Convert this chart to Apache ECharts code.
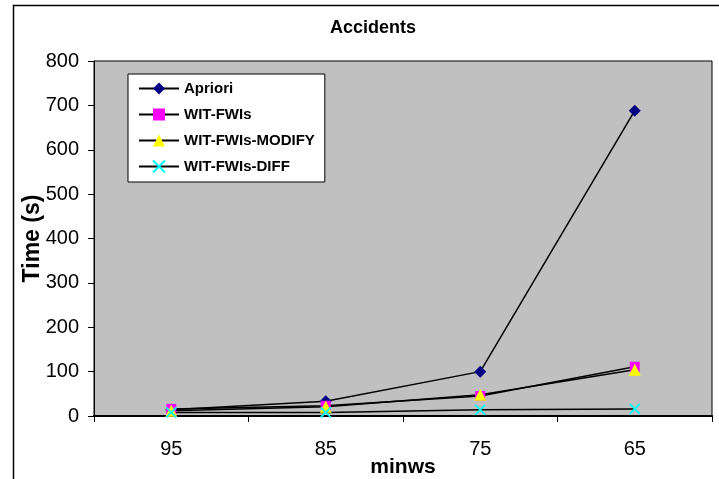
<!DOCTYPE html>
<html>
<head>
<meta charset="utf-8">
<script src="https://cdn.jsdelivr.net/npm/echarts@6/dist/echarts.min.js"></script>
<style>
  html, body { margin: 0; padding: 0; background: #fff; }
  #chart { width: 719px; height: 479px; }
</style>
</head>
<body>
<div id="chart"></div>
<script>
// minws thresholds on the x axis
const categories = ['95', '85', '75', '65']

// runtime in seconds
const apriori = [14, 33, 100, 688]
const witFwis = [16, 23, 45, 111]
const witFwisModify = [12, 21, 48, 104]
const witFwisDiff = [8, 8, 14, 16]

const sansFont = '"Liberation Sans", Arial, sans-serif'
const crossPath = 'path://M0,0 L10,10 M10,0 L0,10'

function lineSeries(name, data, symbol, size, color, cross) {
    return {
        name: name,
        type: 'line',
        data: data,
        symbol: symbol,
        symbolSize: size,
        showAllSymbol: true,
        lineStyle: { color: '#000', width: 1.5 },
        itemStyle: cross
            ? { color: 'rgba(0,0,0,0)', borderColor: color, borderWidth: 1.8 }
            : { color: color, borderWidth: 0 },
        emphasis: { disabled: true },
        animation: false
    }
}

const myChart = echarts.init(document.getElementById('chart'), null, { renderer: 'canvas' })

myChart.setOption({
    backgroundColor: '#fff',
    animation: false,
    title: {
        text: 'Accidents',
        left: 368,
        top: 14,
        textAlign: 'center',
        textStyle: { fontFamily: sansFont, fontWeight: 'bold', fontSize: 18, color: '#000' }
    },
    graphic: [{
        type: 'rect',
        left: 11,
        top: 3,
        shape: { width: 760, height: 520 },
        style: { fill: 'none', stroke: '#000', lineWidth: 1.5 },
        silent: true
    }],
    legend: {
        orient: 'vertical',
        left: 128,
        top: 74,
        padding: [7, 10, 8, 10],
        itemWidth: 40,
        itemHeight: 15,
        itemGap: 11,
        backgroundColor: '#fff',
        borderColor: '#000',
        borderWidth: 1,
        textStyle: { fontFamily: sansFont, fontWeight: 'bold', fontSize: 15, color: '#000' },
        data: ['Apriori', 'WIT-FWIs', 'WIT-FWIs-MODIFY', 'WIT-FWIs-DIFF']
    },
    grid: {
        left: 94,
        top: 61,
        right: 7,
        bottom: 63,
        outerBoundsMode: 'none',
        containLabel: false,
        show: true,
        backgroundColor: '#c0c0c0',
        borderColor: '#000',
        borderWidth: 1
    },
    xAxis: {
        type: 'category',
        data: categories,
        boundaryGap: true,
        name: 'minws',
        nameLocation: 'middle',
        nameGap: 41,
        nameMoveOverlap: false,
        nameTextStyle: { fontFamily: sansFont, fontWeight: 'bold', fontSize: 21, color: '#000' },
        axisLine: { lineStyle: { color: '#000', width: 2 } },
        axisTick: { show: true, alignWithLabel: false, length: 6, lineStyle: { color: '#000', width: 1 } },
        axisLabel: { fontFamily: sansFont, fontSize: 20, color: '#000', margin: 23 },
        splitLine: { show: false }
    },
    yAxis: {
        type: 'value',
        min: 0,
        max: 800,
        interval: 100,
        name: 'Time (s)',
        nameLocation: 'middle',
        nameRotate: 90,
        nameGap: 50,
        nameMoveOverlap: false,
        nameTextStyle: { fontFamily: sansFont, fontWeight: 'bold', fontSize: 23, color: '#000' },
        axisLine: { show: true, lineStyle: { color: '#000', width: 1 } },
        axisTick: { show: true, length: 6, lineStyle: { color: '#000', width: 1 } },
        axisLabel: { fontFamily: sansFont, fontSize: 20, color: '#000', margin: 15 },
        splitLine: { show: false }
    },
    series: [
        lineSeries('Apriori', apriori, 'diamond', 12, '#000080'),
        lineSeries('WIT-FWIs', witFwis, 'rect', 10, '#ff00ff'),
        lineSeries('WIT-FWIs-MODIFY', witFwisModify, 'triangle', 12, '#ffff00'),
        lineSeries('WIT-FWIs-DIFF', witFwisDiff, crossPath, 10, '#00ffff', true)
    ]
})
</script>
</body>
</html>
